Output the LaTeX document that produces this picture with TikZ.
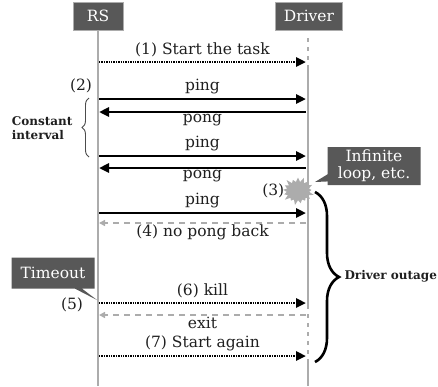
\documentclass[tikz,border=0pt]{standalone}
\usepackage{fontspec}
\setmainfont{DejaVu Serif}
\usepackage{xcolor}
\usepackage{tikz}
\usetikzlibrary{positioning,arrows.meta,decorations.pathreplacing,shapes.symbols,shapes.callouts}
\definecolor{boxgray}{RGB}{88,88,88}
\definecolor{linegray}{RGB}{172,172,172}

\begin{document}
\begin{tikzpicture}[x=1pt,y=-1pt,>={Triangle[length=10pt,width=9pt]},
    every node/.style={font=\fontsize{15.5}{17}\selectfont,text=black!88},
    head/.style={fill=boxgray,draw=linegray,text=white,minimum height=28pt,inner xsep=2pt},
    msg/.style={->,line width=2.6pt},
    dots/.style={->,line width=2.6pt,dash pattern=on 1.4pt off 1pt},
    noreply/.style={->,linegray,line width=1.5pt,dash pattern=on 6pt off 5pt,>={Triangle[length=6pt,width=6pt]}},
    life/.style={linegray,line width=2pt},
    gap/.style={life,dash pattern=on 4pt off 5pt},
    note/.style={font=\fontsize{12}{14}\selectfont\bfseries},
    bubble/.style={rectangle callout,fill=boxgray,text=white,align=center,inner sep=2pt}]
    \useasboundingbox (0,0) rectangle (438,386);
    \node[head,minimum width=50pt] (rs) at (98,16) {RS};
    \node[head,minimum width=67pt] (drv) at (309,16) {Driver};
    \coordinate (rs-end) at (98,386);
    \coordinate (drv-top) at (308,38);
    \coordinate (drv-up) at (308,65);
    \coordinate (drv-down) at (308,305);
    \coordinate (drv-back) at (308,362);
    \coordinate (drv-end) at (308,386);
    \draw[life] (rs) -- (rs-end);
    \draw[gap] (drv-top) -- (drv-up);
    \draw[life] (drv-up) -- (drv-down);
    \draw[gap] (drv-down) -- (drv-back);
    \draw[life] (drv-back) -- (drv-end);
    \foreach \n/\y in {start/62,ping1/99,pong1/112,ping2/156,pong2/168,ping3/213,nopong/223,kill/303,exit/315,again/356}{
      \coordinate (rs-\n) at (99,\y);
      \coordinate (drv-\n) at (306,\y);
    }
    \draw[dots] (rs-start) -- node[above=0pt] {(1) Start the task} (drv-start);
    \draw[msg] (rs-ping1) -- node[above=0pt] {ping} (drv-ping1);
    \draw[msg] (drv-pong1) -- node[below=-2pt] {pong} (rs-pong1);
    \draw[msg] (rs-ping2) -- node[above=0pt] {ping} (drv-ping2);
    \draw[msg] (drv-pong2) -- node[below=-2pt] {pong} (rs-pong2);
    \draw[msg] (rs-ping3) -- node[above=0pt] {ping} (drv-ping3);
    \draw[noreply] (drv-nopong) -- node[below=-2pt] {(4) no pong back} (rs-nopong);
    \draw[dots] (rs-kill) -- node[above=0pt] {(6) kill} (drv-kill);
    \draw[noreply] (drv-exit) -- node[below=-2pt] {exit} (rs-exit);
    \draw[dots] (rs-again) -- node[above=0pt] {(7) Start again} (drv-again);
    \node (two) at (81,86) {(2)};
    \node (five) at (72,305) {(5)};
    \node[starburst,fill=linegray,inner sep=1pt,starburst point height=6pt] (crash) at (298,191) {\hspace{14pt}\rule{0pt}{11pt}};
    \node[left=-3pt of crash] (three) {(3)};
    \node[bubble,callout absolute pointer={(315,182)},minimum width=93pt,minimum height=38pt] (loop) at (374,166) {Infinite\\loop, etc.};
    \node[bubble,callout absolute pointer={(97,300)},minimum width=83pt,minimum height=31pt] (timeout) at (53,273) {Timeout};
    \coordinate (ci-bot) at (89,157);
    \coordinate (ci-top) at (89,98);
    \draw[decorate,decoration={brace,amplitude=7pt},line width=0.9pt,black!70] (ci-bot) -- (ci-top);
    \node[note,align=left,anchor=east] (interval) at (76,128) {Constant\\interval};
    \coordinate (out-top) at (315,192);
    \coordinate (out-bot) at (315,362);
    \draw[decorate,decoration={brace,amplitude=24pt},line width=2.6pt] (out-top) -- (out-bot);
    \node[note,anchor=west] (outage) at (341,276) {Driver outage};
  \end{tikzpicture}
\end{document}
